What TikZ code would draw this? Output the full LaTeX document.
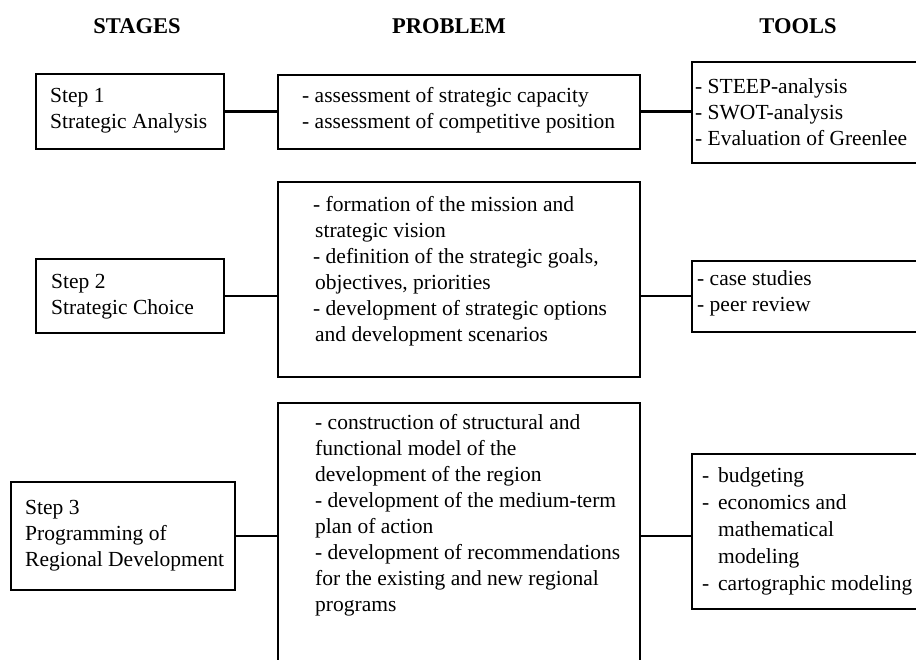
\documentclass[tikz,border=0pt]{standalone}
\usepackage{fontspec}
\setmainfont{Liberation Serif}
\begin{document}
\begin{tikzpicture}[x=1pt,y=-1pt,
  box/.style={draw=black, line width=2.9pt, inner sep=0pt, outer sep=0pt, anchor=north west},
  txt/.style={anchor=west, align=left, inner sep=0pt, font=\fontsize{21.5}{26}\selectfont},
  hdr/.style={inner sep=0pt, font=\fontsize{22.5}{27}\selectfont\bfseries},
  conn/.style={line width=2.4pt}]
\useasboundingbox (0,0) rectangle (916,659);
\clip (0,0) rectangle (916,659);
\fill[white] (0,0) rectangle (916,659);
% headers
\node[hdr] (h1) at (137,26) {STAGES};
\node[hdr] (h2) at (449,26) {PROBLEM};
\node[hdr] (h3) at (798,26) {TOOLS};
% boxes
\node[box, minimum width=188pt, minimum height=75pt] (S1) at (36,74) {};
\node[box, minimum width=362pt, minimum height=74pt] (P1) at (278,75) {};
\node[box, minimum width=240pt, minimum height=101pt] (T1) at (692,62) {};
\node[box, minimum width=188pt, minimum height=74pt] (S2) at (36,259) {};
\node[box, minimum width=362pt, minimum height=195pt] (P2) at (278,182) {};
\node[box, minimum width=240pt, minimum height=71pt] (T2) at (692,261) {};
\node[box, minimum width=224pt, minimum height=108pt] (S3) at (11,482) {};
\node[box, minimum width=362pt, minimum height=320pt] (P3) at (278,403) {};
\node[box, minimum width=240pt, minimum height=155pt] (T3) at (692,454) {};
% texts
\node[txt] (S1t) at (50,110.5) {Step 1\\Strategic Analysis};
\node[txt] (P1t) at (302,110.5) {- assessment of strategic capacity\\- assessment of competitive position};
\node[txt] (T1t) at (695,112) {- STEEP-analysis\\- SWOT-analysis\\- Evaluation of Greenlee};
\node[txt] (S2t) at (51,296.5) {Step 2\\Strategic Choice};
\node[txt] (P2t) at (313,271) {- formation of the mission and\\\hspace{2pt}strategic vision\\- definition of the strategic goals,\\\hspace{2pt}objectives, priorities\\- development of strategic options\\\hspace{2pt}and development scenarios};
\node[txt] (T2t) at (697,293) {- case studies\\- peer review};
\node[txt] (S3t) at (25,536) {Step 3\\Programming of\\Regional Development};
\node[txt] (P3t) at (315,515) {- construction of structural and\\functional model of the\\development of the region\\- development of the medium-term\\plan of action\\- development of recommendations\\for the existing and new regional\\programs};
\node[txt, font=\fontsize{21.5}{27}\selectfont] (T3t) at (702,531.5) {\makebox[16pt][l]{-}budgeting\\\makebox[16pt][l]{-}economics and\\\hspace{16pt}mathematical\\\hspace{16pt}modeling\\\makebox[16pt][l]{-}cartographic modeling};
% connectors
\draw[conn] (S1.east) -- (S1.east -| P1.west);
\draw[conn] (P1.east |- S1.east) -- (T1.west |- S1.east);
\draw[conn] (S2.east) -- (S2.east -| P2.west);
\draw[conn] (P2.east |- S2.east) -- (T2.west |- S2.east);
\draw[conn] (S3.east) -- (S3.east -| P3.west);
\draw[conn] (P3.east |- S3.east) -- (T3.west |- S3.east);
\end{tikzpicture}
\end{document}
